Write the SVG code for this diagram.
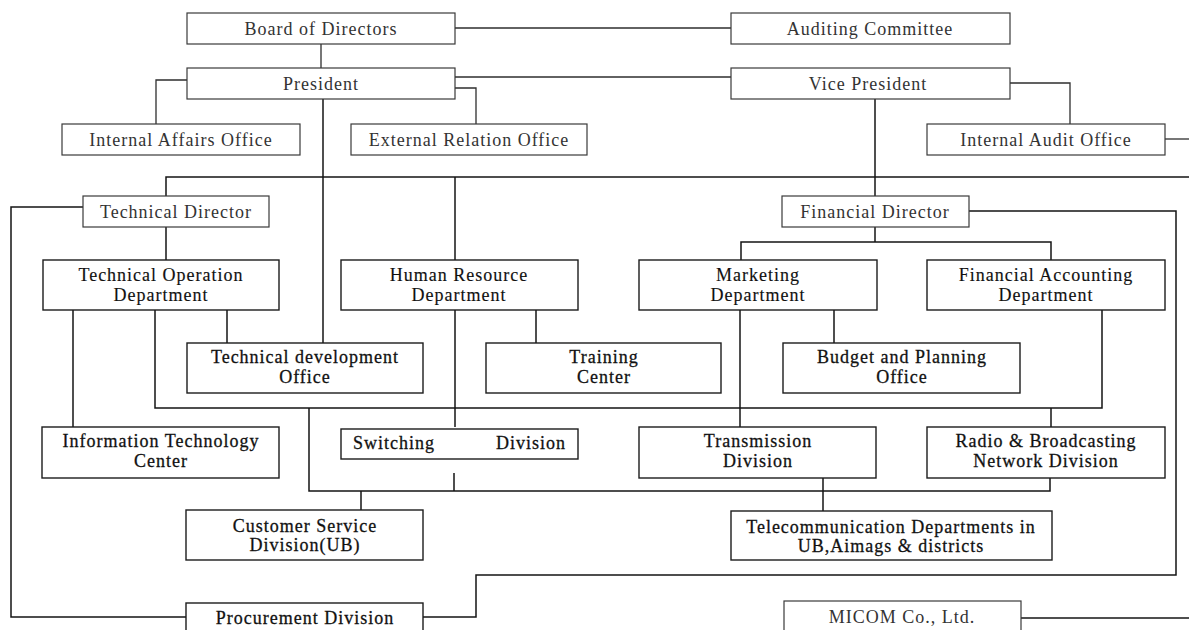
<svg xmlns="http://www.w3.org/2000/svg" width="1189" height="630" viewBox="0 0 1189 630">
  <style>
    .bg { fill: #ffffff; }
    .box { fill: #ffffff; stroke: #1c1c1c; stroke-width: 1.4; }
    .box-top { fill: #ffffff; stroke: #3a3a3a; stroke-width: 1.2; }
    .lbl { font-family: "Liberation Serif", "Times New Roman", serif; font-size: 18px; letter-spacing: 1px; text-anchor: middle; fill: #111111; }
    .lbl-top { fill: #333333; }
    .lbl-mid { stroke: #111111; stroke-width: 0.15; }
    .lbl-dark { stroke: #111111; stroke-width: 0.28; }
    .wire { fill: none; stroke: #141414; stroke-width: 1.5; }
    .wire-top { stroke: #2e2e2e; stroke-width: 1.3; }
  </style>
  <rect class="bg" x="0" y="0" width="1189" height="630"/>

  <!-- connectors -->
  <g id="connectors">
    <g class="wire wire-top">
      <path d="M455,28 H731"/>
      <path d="M321,44 V68"/>
      <path d="M455,77 H731"/>
      <path d="M455,88 H476 V124"/>
      <path d="M187,80 H156 V124"/>
      <path d="M1010,83 H1070 V124"/>
      <path d="M1165,139 H1189"/>
    </g>
    <g class="wire">
      <path d="M323,99 V343"/>
      <path d="M875,99 V196"/>
      <path d="M166,196 V177 H1189"/>
      <path d="M875,227 V242"/>
      <path d="M741,260 V242 H1051 V260"/>
      <path d="M166,227 V260"/>
      <path d="M455,177 V260"/>
      <path d="M83,207 H11 V617 H186"/>
      <path d="M969,211 H1176 V575 H476 V617 H423"/>
      <path d="M73,310 V427"/>
      <path d="M155,310 V408 H1102 V310"/>
      <path d="M227,310 V343"/>
      <path d="M455,310 V427"/>
      <path d="M536,310 V343"/>
      <path d="M740,310 V427"/>
      <path d="M834,310 V343"/>
      <path d="M1051,408 V427"/>
      <path d="M309,408 V491 H1050 V478"/>
      <path d="M454,473 V491"/>
      <path d="M361,491 V510"/>
      <path d="M823,478 V511"/>
      <path d="M1021,618 H1189"/>
    </g>
  </g>

  <!-- governance -->
  <g id="board">
    <rect class="box-top" x="187" y="13" width="268" height="31"/>
    <text class="lbl lbl-top" x="321" y="35">Board of Directors</text>
  </g>
  <g id="auditing-committee">
    <rect class="box-top" x="731" y="13" width="279" height="31"/>
    <text class="lbl lbl-top" x="870" y="35">Auditing Committee</text>
  </g>
  <g id="president">
    <rect class="box-top" x="187" y="68" width="268" height="31"/>
    <text class="lbl lbl-top" x="321" y="90">President</text>
  </g>
  <g id="vice-president">
    <rect class="box-top" x="731" y="68" width="279" height="31"/>
    <text class="lbl lbl-top" x="868" y="90">Vice President</text>
  </g>

  <!-- offices -->
  <g id="internal-affairs">
    <rect class="box-top" x="62" y="124" width="238" height="31"/>
    <text class="lbl lbl-top" x="181" y="146">Internal Affairs Office</text>
  </g>
  <g id="external-relation">
    <rect class="box-top" x="351" y="124" width="236" height="31"/>
    <text class="lbl lbl-top" x="469" y="146">External Relation Office</text>
  </g>
  <g id="internal-audit">
    <rect class="box-top" x="927" y="124" width="238" height="31"/>
    <text class="lbl lbl-top" x="1046" y="146">Internal Audit Office</text>
  </g>

  <!-- directors -->
  <g id="technical-director">
    <rect class="box-top" x="83" y="196" width="186" height="31"/>
    <text class="lbl lbl-top" x="176" y="218">Technical Director</text>
  </g>
  <g id="financial-director">
    <rect class="box-top" x="782" y="196" width="187" height="31"/>
    <text class="lbl lbl-top" x="875" y="218">Financial Director</text>
  </g>

  <!-- departments -->
  <g id="technical-operation">
    <rect class="box" x="43" y="260" width="236" height="50"/>
    <text class="lbl lbl-mid" x="161" y="281">Technical Operation</text>
    <text class="lbl lbl-mid" x="161" y="301">Department</text>
  </g>
  <g id="human-resource">
    <rect class="box" x="341" y="260" width="237" height="50"/>
    <text class="lbl lbl-mid" x="459" y="281">Human Resource</text>
    <text class="lbl lbl-mid" x="459" y="301">Department</text>
  </g>
  <g id="marketing">
    <rect class="box" x="639" y="260" width="238" height="50"/>
    <text class="lbl lbl-mid" x="758" y="281">Marketing</text>
    <text class="lbl lbl-mid" x="758" y="301">Department</text>
  </g>
  <g id="financial-accounting">
    <rect class="box" x="927" y="260" width="238" height="50"/>
    <text class="lbl lbl-mid" x="1046" y="281">Financial Accounting</text>
    <text class="lbl lbl-mid" x="1046" y="301">Department</text>
  </g>

  <!-- offices under departments -->
  <g id="technical-development">
    <rect class="box" x="187" y="343" width="236" height="50"/>
    <text class="lbl lbl-dark" x="305" y="363">Technical development</text>
    <text class="lbl lbl-dark" x="305" y="383">Office</text>
  </g>
  <g id="training-center">
    <rect class="box" x="486" y="343" width="235" height="50"/>
    <text class="lbl lbl-dark" x="604" y="363">Training</text>
    <text class="lbl lbl-dark" x="604" y="383">Center</text>
  </g>
  <g id="budget-planning">
    <rect class="box" x="783" y="343" width="237" height="50"/>
    <text class="lbl lbl-dark" x="902" y="363">Budget and Planning</text>
    <text class="lbl lbl-dark" x="902" y="383">Office</text>
  </g>

  <!-- divisions -->
  <g id="it-center">
    <rect class="box" x="42" y="427" width="237" height="51"/>
    <text class="lbl lbl-dark" x="161" y="447">Information Technology</text>
    <text class="lbl lbl-dark" x="161" y="467">Center</text>
  </g>
  <g id="switching">
    <rect class="box" x="341" y="429" width="237" height="30"/>
    <text class="lbl lbl-dark" y="449" style="text-anchor:start"><tspan x="353">Switching</tspan><tspan x="496">Division</tspan></text>
  </g>
  <g id="transmission">
    <rect class="box" x="639" y="427" width="237" height="51"/>
    <text class="lbl lbl-dark" x="758" y="447">Transmission</text>
    <text class="lbl lbl-dark" x="758" y="467">Division</text>
  </g>
  <g id="radio-broadcasting">
    <rect class="box" x="927" y="427" width="238" height="51"/>
    <text class="lbl lbl-dark" x="1046" y="447">Radio &amp; Broadcasting</text>
    <text class="lbl lbl-dark" x="1046" y="467">Network Division</text>
  </g>

  <!-- service units -->
  <g id="customer-service">
    <rect class="box" x="186" y="510" width="237" height="50"/>
    <text class="lbl lbl-dark" x="305" y="532">Customer Service</text>
    <text class="lbl lbl-dark" x="305" y="551">Division(UB)</text>
  </g>
  <g id="telecom-departments">
    <rect class="box" x="731" y="511" width="321" height="49"/>
    <text class="lbl lbl-dark" x="891" y="533">Telecommunication Departments in</text>
    <text class="lbl lbl-dark" x="891" y="552">UB,Aimags &amp; districts</text>
  </g>
  <g id="procurement">
    <rect class="box" x="186" y="603" width="237" height="40"/>
    <text class="lbl lbl-dark" x="305" y="624">Procurement Division</text>
  </g>
  <g id="micom">
    <rect class="box-top" x="784" y="601" width="237" height="42"/>
    <text class="lbl lbl-top" x="902" y="623">MICOM Co., Ltd.</text>
  </g>
</svg>
